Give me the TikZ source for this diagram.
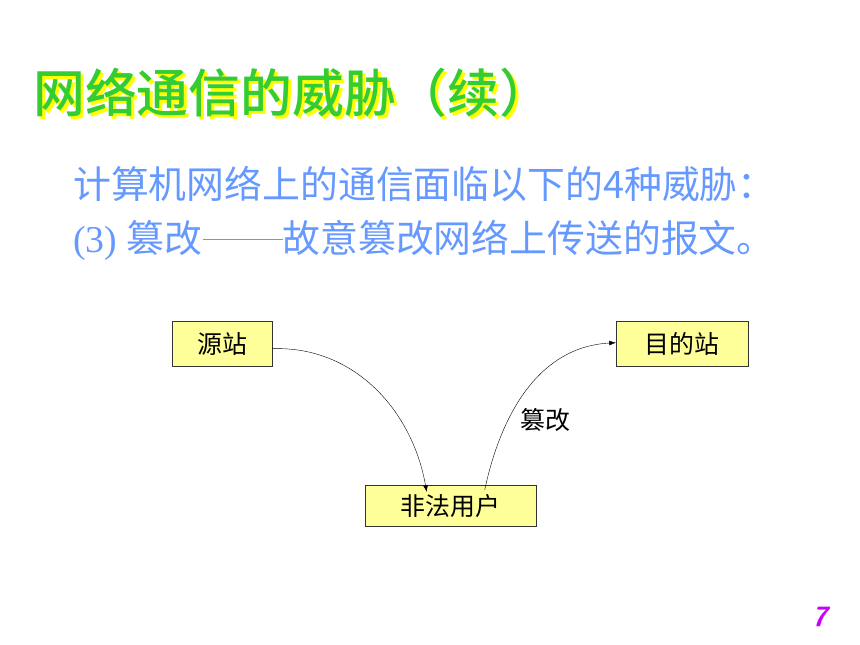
\documentclass[tikz,border=0pt]{standalone}
\usepackage{fontspec}
\setmainfont{Liberation Serif}
\newfontfamily\cjk{Noto Sans CJK SC}
\newfontfamily\cjkmedium{Noto Sans CJK SC Medium}
\usetikzlibrary{positioning, arrows.meta, shapes}
\definecolor{mytitlegreen}{RGB}{51,204,51}
\definecolor{myshadowyellow}{RGB}{255,255,0}
\definecolor{mytextblue}{RGB}{102,153,255}
\definecolor{myboxyellow}{RGB}{255,255,153}
\definecolor{mypagepink}{RGB}{204,0,255}
\tikzset{
  station/.style = {rectangle, draw = black!80, fill = myboxyellow, thin,
                    inner sep = 0pt, anchor = north west,
                    font = \cjk\fontsize{25}{25}\selectfont},
  titletext/.style = {anchor = west, inner sep = 0pt,
                      font = \cjkmedium\fontsize{52}{52}\selectfont},
  bodytext/.style = {anchor = west, inner sep = 0pt, text = mytextblue},
  flow/.style = {-{Latex[length=2.4mm, width=1.7mm]}, black, thin}
}

\begin{document}
\begin{tikzpicture}[x=1bp, y=-1bp]
\useasboundingbox (0,0) rectangle (860,645);

% title with yellow shadow
\node[titletext, text = myshadowyellow] (titleshadow) at (36,96) {网络通信的威胁（续）};
\node[titletext, text = mytitlegreen] (title) at (33,93) {网络通信的威胁（续）};

% body lines
\node[bodytext] (lineone) at (73,184)
    {\cjk\fontsize{38}{38}\selectfont 计算机网络上的通信面临以下的4种威胁：};
\node[bodytext] (linetwo) at (73,240)
    {\fontsize{38}{38}\selectfont (3) {\cjk 篡改}\rule[12.5bp]{80bp}{0.8bp}{\cjk 故意篡改网络上传送的报文。}};

% stations
\node[station, minimum width=100bp, minimum height=45bp] (source) at (172,321) {源站};
\node[station, minimum width=132bp, minimum height=45bp] (target) at (616,321) {目的站};
\node[station, minimum width=171bp, minimum height=41bp] (intruder) at (365,485) {非法用户};

% connectors
\draw[flow] ([yshift=-5bp]source.east) to[out=2, in=100]
    ([xshift=-24bp, yshift=-7bp]intruder.north);
\draw[flow] ([xshift=34bp, yshift=-5bp]intruder.north) to[out=78, in=183]
    node[pos=0.33, right=9bp, font=\cjk\fontsize{25}{25}\selectfont] (modify) {篡改}
    ([yshift=1bp]target.west);

% page number
\node[inner sep=0pt, text=mypagepink, font=\sffamily\bfseries\itshape\fontsize{28}{28}\selectfont]
    (pagenum) at (820,617) {7};
\end{tikzpicture}
\end{document}
